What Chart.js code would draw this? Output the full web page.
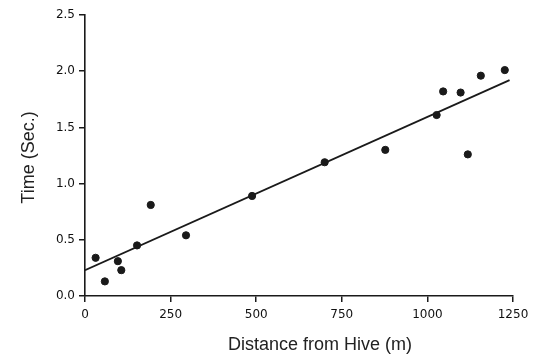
<!DOCTYPE html>
<html>
<head>
<meta charset="utf-8">
<script src="https://cdn.jsdelivr.net/npm/chart.js@4.4.0/dist/chart.umd.min.js"></script>
<style>
  html, body { margin: 0; padding: 0; background: #fff; }
  #wrap { width: 544px; height: 356px; }
</style>
</head>
<body>
<div id="wrap"><canvas id="beeChart"></canvas></div>
<script>
// foraging flight time vs distance
var distance = [31, 58, 96, 106, 152, 192, 295, 488, 700, 877, 1027, 1046, 1097, 1118, 1156, 1226];
var time     = [0.34, 0.13, 0.31, 0.23, 0.45, 0.81, 0.54, 0.89, 1.19, 1.30, 1.61, 1.82, 1.81, 1.26, 1.96, 2.01];

// regression line end points
var fitX = [0, 1240];
var fitY = [0.23, 1.92];

var xTicks = [0, 250, 500, 750, 1000, 1250];
var yTicks = [0.0, 0.5, 1.0, 1.5, 2.0, 2.5];

var xTitle = 'Distance from Hive (m)';
var yTitle = 'Time (Sec.)';

var ink = '#1a1a1a';

var points = distance.map(function (d, i) { return {x: d, y: time[i]}; });
var fit = fitX.map(function (d, i) { return {x: d, y: fitY[i]}; });

// axis titles drawn by hand so they sit where the scan has them
var axisTitles = {
    id: 'axisTitles',
    afterDraw: function (chart) {
        var ctx = chart.ctx, area = chart.chartArea;
        ctx.save();
        ctx.fillStyle = '#222';
        ctx.font = '18px "Liberation Sans", Arial, sans-serif';
        ctx.textAlign = 'center';
        ctx.textBaseline = 'middle';
        ctx.fillText(xTitle, (area.left + area.right) / 2 + 21, 345);
        ctx.translate(29, (area.top + area.bottom) / 2 + 2);
        ctx.rotate(-Math.PI / 2);
        ctx.fillText(yTitle, 0, 0);
        ctx.restore();
    }
};

function fixSize(w, h) {
    return function (scale) {
        if (w) scale.width = w;
        if (h) scale.height = h;
        scale.paddingTop = 0;
        scale.paddingBottom = 0;
        scale.paddingLeft = 0;
        scale.paddingRight = 0;
    };
}

var tickFont = {family: '"DejaVu Sans", sans-serif', size: 12};

new Chart(document.getElementById('beeChart'), {
    type: 'scatter',
    data: {
        datasets: [{
            data: points,
            backgroundColor: ink,
            borderColor: ink,
            pointRadius: 3.6,
            pointHoverRadius: 3.6
        }, {
            type: 'line',
            data: fit,
            borderColor: ink,
            borderWidth: 1.8,
            pointRadius: 0,
            fill: false
        }]
    },
    options: {
        responsive: true,
        maintainAspectRatio: false,
        animation: false,
        layout: {padding: {left: 0, top: 15, right: 31, bottom: 0}},
        plugins: {
            legend: {display: false},
            tooltip: {enabled: false}
        },
        scales: {
            x: {
                type: 'linear',
                min: 0,
                max: 1250,
                afterFit: fixSize(0, 60),
                afterBuildTicks: function (s) { s.ticks = xTicks.map(function (v) { return {value: v}; }); },
                grid: {drawOnChartArea: false, drawTicks: true, tickLength: 6, color: ink, lineWidth: 1.5},
                border: {display: true, color: ink, width: 1.6},
                ticks: {
                    color: '#111',
                    font: tickFont,
                    padding: 6,
                    maxRotation: 0,
                    callback: function (v) { return String(v); }
                }
            },
            y: {
                type: 'linear',
                min: 0,
                max: 2.5,
                afterFit: fixSize(85, 0),
                afterBuildTicks: function (s) { s.ticks = yTicks.map(function (v) { return {value: v}; }); },
                grid: {drawOnChartArea: false, drawTicks: true, tickLength: 6, color: ink, lineWidth: 1.5},
                border: {display: true, color: ink, width: 1.6},
                ticks: {
                    color: '#111',
                    font: tickFont,
                    padding: 4,
                    callback: function (v) { return Number(v).toFixed(1); }
                }
            }
        }
    },
    plugins: [axisTitles]
});
</script>
</body>
</html>
